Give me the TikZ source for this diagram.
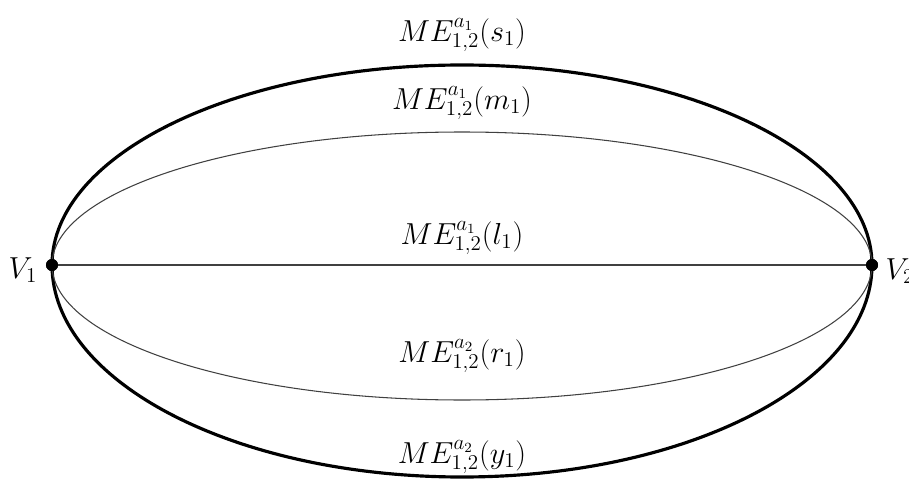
\documentclass[tikz,border=0pt]{standalone}
\begin{document}
\begin{tikzpicture}[
  thick edge/.style={line width=1.8pt, black},
  thin edge/.style={line width=0.6pt, black!75},
  vdot/.style={circle, fill=black, inner sep=0pt, minimum size=0.24cm},
  lab/.style={font=\fontsize{17}{20}\selectfont, inner sep=1pt}
]
\useasboundingbox[clip] (0,0) rectangle (18.18,9.66);
\node[vdot] (v1) at (1.04,4.36) {};
\node[vdot] (v2) at (17.44,4.36) {};
% edges
\draw[thick edge] (v1.center) arc[start angle=180, end angle=0, x radius=8.2cm, y radius=4.0cm];
\draw[thick edge] (v1.center) arc[start angle=180, end angle=360, x radius=8.2cm, y radius=4.24cm];
\draw[thin edge] (v1.center) arc[start angle=180, end angle=0, x radius=8.2cm, y radius=2.66cm];
\draw[thin edge] (v1.center) arc[start angle=180, end angle=360, x radius=8.2cm, y radius=2.7cm];
\draw[thin edge] (v1.center) -- (v2.center);
\node[vdot] at (v1) {};
\node[vdot] at (v2) {};
% labels
\node[lab] (ls) at (9.24,8.96) {$ME^{a_1}_{1,2}(s_1)$};
\node[lab] (lm) at (9.24,7.6) {$ME^{a_1}_{1,2}(m_1)$};
\node[lab] (ll) at (9.24,4.9) {$ME^{a_1}_{1,2}(l_1)$};
\node[lab] (lr) at (9.24,2.54) {$ME^{a_2}_{1,2}(r_1)$};
\node[lab] (ly) at (9.24,0.52) {$ME^{a_2}_{1,2}(y_1)$};
\node[lab] (tv1) at (0.46,4.26) {$V_1$};
\node[lab] (tv2) at (18.0,4.24) {$V_2$};
\end{tikzpicture}
\end{document}
